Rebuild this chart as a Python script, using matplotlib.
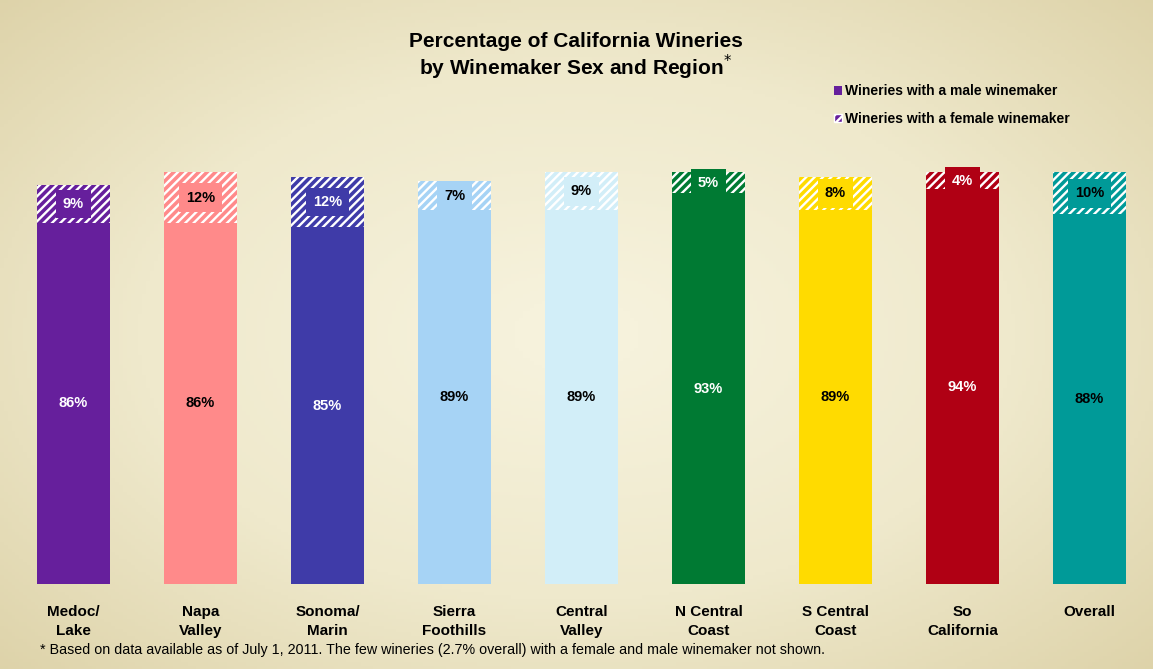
import numpy as np
import matplotlib.pyplot as plt
from matplotlib.colors import LinearSegmentedColormap
from matplotlib.patches import Patch

regions = ['Medoc/\nLake', 'Napa\nValley', 'Sonoma/\nMarin', 'Sierra\nFoothills',
           'Central\nValley', 'N Central\nCoast', 'S Central\nCoast', 'So\nCalifornia',
           'Overall']
male = [86, 86, 85, 89, 89, 93, 89, 94, 88]
female = [9, 12, 12, 7, 9, 5, 8, 4, 10]
colors = ['#661f9c', '#ff8a8a', '#3f3ba8', '#a6d3f5', '#d2eef8',
          '#007a33', '#ffdb00', '#b00014', '#009a98']
label_colors = ['white', 'black', 'white', 'black', 'black',
                'white', 'black', 'white', 'black']

plt.rcParams['font.family'] = ['Liberation Sans', 'DejaVu Sans']
plt.rcParams['hatch.linewidth'] = 1.7
plt.rcParams['hatch.color'] = 'white'

fig = plt.figure(figsize=(11.53, 6.69), dpi=100)

# beige background, lighter in the middle
bg = fig.add_axes([0, 0, 1, 1], zorder=-1)
yy, xx = np.mgrid[-1:1:200j, -1:1:300j]
r = np.sqrt((xx / 1.05) ** 2 + (yy / 1.1) ** 2)
cmap = LinearSegmentedColormap.from_list('bg', ['#f6f2dc', '#efe9cc', '#ddd2a8'])
bg.imshow(r, cmap=cmap, aspect='auto', vmin=0.1, vmax=1.35, extent=[0, 1, 0, 1])
bg.set_xlim(0, 1)
bg.set_ylim(0, 1)
bg.axis('off')

ax = fig.add_axes([10 / 1153, 85 / 669, 1143 / 1153, 441 / 669])
ax.patch.set_alpha(0)
x = np.arange(len(regions))
w = 0.575
ax.bar(x, male, width=w, color=colors, linewidth=0)
ax.bar(x, female, bottom=male, width=w, color=colors, hatch='////', edgecolor='white',
       linewidth=0)

for i in range(len(regions)):
    ax.text(x[i], male[i] / 2, f'{male[i]}%', ha='center', va='center',
            fontsize=10.5, fontweight='bold', color=label_colors[i])
    ax.text(x[i], male[i] + female[i] / 2, f'{female[i]}%', ha='center', va='center',
            fontsize=10.5, fontweight='bold', color=label_colors[i],
            bbox=dict(boxstyle='square,pad=0.5', fc=colors[i], ec='none'))

ax.set_xlim(-0.5, len(regions) - 0.5)
ax.set_ylim(0, 105)
ax.set_xticks(x)
ax.set_xticklabels(regions, fontsize=11, fontweight='bold', linespacing=1.5)
ax.tick_params(axis='x', length=0, pad=15)
ax.set_yticks([])
for s in ax.spines.values():
    s.set_visible(False)

fig.text(0.4995, 1 - 57 / 669,
         'Percentage of California Wineries\nby Winemaker Sex and Region$^{*}$',
         ha='center', va='center', fontsize=15, fontweight='bold', linespacing=1.05)

handles = [Patch(facecolor='#661f9c', edgecolor='none'),
           Patch(facecolor='#661f9c', edgecolor='white', hatch='////')]
ax.legend(handles, ['Wineries with a male winemaker', 'Wineries with a female winemaker'],
          loc='upper left', bbox_to_anchor=(834 / 1153, 1 - 84 / 669),
          bbox_transform=fig.transFigure, borderaxespad=0, borderpad=0,
          frameon=False, handlelength=0.6, handleheight=0.6, handletextpad=0.2,
          labelspacing=1.0, prop=dict(weight='bold', size=10))

fig.text(40 / 1153, 1 - 650 / 669,
         '* Based on data available as of July 1, 2011. The few wineries (2.7% overall) '
         'with a female and male winemaker not shown.',
         ha='left', va='center', fontsize=10.3)

fig.savefig('out.png', dpi=100)
